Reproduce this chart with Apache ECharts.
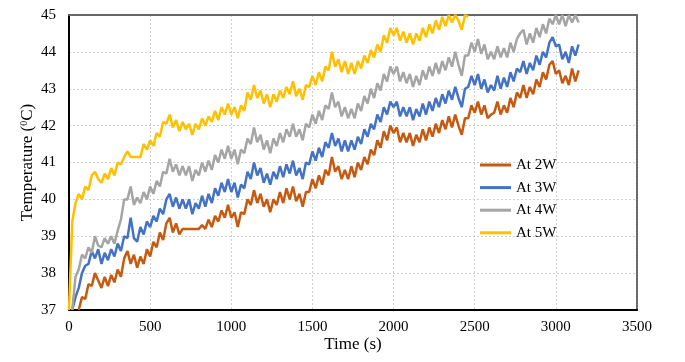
<!DOCTYPE html>
<html>
<head>
<meta charset="utf-8">
<script src="https://cdn.jsdelivr.net/npm/echarts@6/dist/echarts.min.js"></script>
<style>
html,body{margin:0;padding:0;background:#fff;}
#c{width:685px;height:362px;}
</style>
</head>
<body>
<div id="c"></div>
<script>
// Sampling interval of the recorded series (seconds)
const TIME_STEP = 20;
const seriesNames = ['At 2W', 'At 3W', 'At 4W', 'At 5W'];
const xTicks = [0, 500, 1000, 1500, 2000, 2500, 3000, 3500];
const yTicks = [37, 38, 39, 40, 41, 42, 43, 44, 45];

const temp2W = [
  null,null,null,37.0,37.35,37.3,37.7,37.65,38.0,37.8,
  37.6,37.9,37.65,37.95,37.75,38.1,37.9,38.4,38.6,38.25,
  38.5,38.15,38.45,38.25,38.65,38.45,38.85,38.7,39.1,38.9,
  39.35,39.5,39.1,39.35,39.05,39.2,39.2,39.2,39.2,39.2,
  39.2,39.3,39.2,39.45,39.25,39.55,39.4,39.7,39.5,39.85,
  39.5,39.65,39.25,39.65,39.6,40.0,39.85,40.25,39.9,40.15,
  39.8,40.0,39.65,40.0,39.85,40.2,39.9,40.3,40.0,40.35,
  39.95,40.15,39.8,40.2,40.2,40.55,40.3,40.65,40.4,40.8,
  40.65,41.15,40.75,40.9,40.55,40.8,40.55,40.9,40.6,41.0,
  40.8,41.15,40.95,41.35,41.2,41.6,41.4,41.85,41.6,42.0,
  41.8,41.95,41.55,41.8,41.55,41.8,41.45,41.75,41.55,41.9,
  41.6,41.95,41.7,42.05,41.8,42.15,41.9,42.25,41.95,42.3,
  42.0,41.75,42.2,42.2,42.55,42.35,42.65,42.3,42.55,42.2,
  42.3,42.35,42.65,42.3,42.55,42.35,42.75,42.5,42.9,42.75,
  43.1,42.75,43.05,42.85,43.25,43.05,43.45,43.25,43.65,43.75,
  43.4,43.5,43.15,43.35,43.1,43.55,43.2,43.5
];
const temp3W = [
  null,37.0,37.35,37.6,38.0,38.2,38.25,38.6,38.4,38.65,
  38.25,38.55,38.35,38.65,38.45,38.8,38.6,39.0,38.95,39.5,
  38.95,38.85,39.25,39.05,39.4,39.25,39.55,39.4,39.75,39.6,
  40.0,40.15,39.8,40.05,39.75,40.0,39.75,40.0,39.6,39.9,
  39.75,40.1,39.8,40.15,39.9,40.3,40.1,40.45,40.2,40.55,
  40.2,40.45,40.05,40.4,40.3,40.75,40.55,41.0,40.65,40.85,
  40.45,40.7,40.4,40.75,40.55,40.9,40.6,40.95,40.7,41.05,
  40.65,40.85,40.55,41.0,40.95,41.3,41.05,41.4,41.15,41.55,
  41.4,41.8,41.45,41.65,41.3,41.6,41.3,41.6,41.35,41.7,
  41.5,41.9,41.7,42.05,41.9,42.3,42.1,42.5,42.3,42.65,
  42.5,42.65,42.25,42.5,42.25,42.5,42.15,42.45,42.25,42.6,
  42.3,42.65,42.4,42.75,42.5,42.85,42.6,42.95,42.7,43.05,
  42.75,42.5,43.0,43.05,43.35,43.1,43.4,43.0,43.25,42.9,
  43.1,42.95,43.35,43.0,43.3,43.05,43.45,43.2,43.55,43.45,
  43.75,43.4,43.7,43.5,43.9,43.65,44.0,43.85,44.25,44.4,
  44.15,44.2,43.8,44.0,43.7,44.15,43.9,44.2
];
const temp4W = [
  null,37.0,37.9,38.1,38.5,38.4,38.7,38.55,39.0,38.75,
  38.7,38.95,38.8,39.0,38.8,39.15,39.45,40.0,40.0,40.35,
  39.85,40.05,39.9,40.2,40.0,40.35,40.15,40.5,40.35,40.75,
  40.7,41.1,40.75,40.95,40.65,40.9,40.65,40.9,40.5,40.8,
  40.65,41.0,40.75,41.05,40.8,41.2,41.0,41.35,41.1,41.45,
  41.1,41.35,40.95,41.35,41.25,41.65,41.5,41.95,41.55,41.75,
  41.35,41.6,41.25,41.65,41.45,41.8,41.55,41.9,41.7,42.05,
  41.7,41.9,41.6,42.05,41.95,42.3,42.05,42.4,42.15,42.55,
  42.45,42.9,42.5,42.65,42.25,42.5,42.2,42.45,42.2,42.6,
  42.4,42.8,42.6,43.0,42.75,43.15,42.95,43.4,43.2,43.6,
  43.4,43.6,43.2,43.45,43.15,43.4,43.05,43.35,43.1,43.5,
  43.25,43.6,43.35,43.7,43.4,43.75,43.5,43.85,43.6,44.0,
  43.65,43.35,43.9,43.9,44.25,44.0,44.35,43.95,44.2,43.8,
  44.0,43.8,44.15,43.85,44.1,43.85,44.25,44.0,44.35,44.5,
  44.6,44.2,44.5,44.25,44.65,44.4,44.75,44.5,44.9,44.75,
  45.0,44.75,45.0,44.7,45.0,44.8,45.0,44.8
];
const temp5W = [
  37.0,39.4,39.9,40.15,40.0,40.35,40.25,40.65,40.75,40.55,
  40.45,40.7,40.55,40.85,40.65,41.0,40.95,41.15,41.3,41.15,
  41.15,41.15,41.15,41.5,41.35,41.6,41.45,41.8,41.7,42.1,
  42.05,42.3,41.95,42.15,41.85,42.1,41.9,42.05,41.75,42.05,
  41.9,42.2,42.0,42.25,42.1,42.4,42.15,42.5,42.3,42.6,
  42.3,42.5,42.2,42.55,42.4,42.9,42.7,43.1,42.75,42.95,
  42.6,42.85,42.5,42.85,42.65,42.95,42.75,43.05,42.85,43.2,
  42.8,43.0,42.7,43.1,43.05,43.35,43.1,43.45,43.2,43.6,
  43.5,44.0,43.6,43.8,43.45,43.75,43.4,43.7,43.4,43.75,
  43.55,43.9,43.7,44.05,43.85,44.2,44.0,44.45,44.25,44.65,
  44.45,44.65,44.3,44.55,44.25,44.5,44.2,44.5,44.3,44.65,
  44.4,44.75,44.5,44.85,44.6,44.95,44.7,45.0,44.8,45.0,
  44.85,44.6,45.0,44.95
];
const colors = ['#C55A11', '#4472C4', '#A5A5A5', '#FFC000'];

const allValues = [temp2W, temp3W, temp4W, temp5W];
function toPairs(vals) {
  return vals.map((v, i) => [i * TIME_STEP, v]);
}

const FONT = 'Liberation Serif';
const chart = echarts.init(document.getElementById('c'), null, {renderer: 'canvas'});
chart.setOption({
  animation: false,
  backgroundColor: '#fff',
  grid: {left: 69, right: 48, top: 15, bottom: 52, containLabel: false},
  legend: {
    orient: 'vertical',
    left: 475,
    top: 152,
    icon: 'rect',
    itemWidth: 31,
    itemHeight: 3,
    itemGap: 6.6,
    textStyle: {fontFamily: FONT, fontSize: 15, color: '#000', lineHeight: 16},
    data: seriesNames
  },
  xAxis: [{
    type: 'value',
    min: xTicks[0], max: xTicks[xTicks.length - 1], interval: 500,
    name: 'Time (s)', nameLocation: 'middle', nameGap: 26, nameMoveOverlap: false,
    nameTextStyle: {fontFamily: FONT, fontSize: 17, color: '#000'},
    axisLine: {show: true, onZero: false, lineStyle: {color: '#000', width: 2}},
    axisTick: {show: false},
    axisLabel: {fontFamily: FONT, fontSize: 15, color: '#000', margin: 10,
      formatter: v => String(v)},
    splitLine: {show: true, lineStyle: {color: '#cfcfcf', type: [2, 2], width: 1}}
  }, {
    type: 'value', position: 'top',
    min: xTicks[0], max: xTicks[xTicks.length - 1],
    axisLine: {show: true, onZero: false, lineStyle: {color: '#666', width: 2, type: [2, 1]}},
    axisTick: {show: false}, axisLabel: {show: false}, splitLine: {show: false}
  }],
  yAxis: [{
    type: 'value',
    min: yTicks[0], max: yTicks[yTicks.length - 1], interval: 1,
    name: 'Temperature ({sup|0}C)', nameLocation: 'middle', nameGap: 32, nameRotate: 90,
    nameMoveOverlap: false,
    nameTextStyle: {fontFamily: FONT, fontSize: 17, color: '#000',
      rich: {sup: {fontFamily: FONT, fontSize: 10, color: '#000', verticalAlign: 'top', padding: [0, 0, 8, 0]}}},
    axisLine: {show: true, onZero: false, lineStyle: {color: '#000', width: 2}},
    axisTick: {show: false},
    axisLabel: {fontFamily: FONT, fontSize: 15, color: '#000', margin: 13},
    splitLine: {show: true, lineStyle: {color: '#cfcfcf', type: [2, 2], width: 1}}
  }, {
    type: 'value', position: 'right',
    min: yTicks[0], max: yTicks[yTicks.length - 1],
    axisLine: {show: true, onZero: false, lineStyle: {color: '#666', width: 2, type: [2, 1]}},
    axisTick: {show: false}, axisLabel: {show: false}, splitLine: {show: false}
  }],
  series: allValues.map((vals, i) => ({
    name: seriesNames[i],
    type: 'line',
    data: toPairs(vals),
    showSymbol: false,
    symbol: 'none',
    clip: true,
    connectNulls: false,
    lineStyle: {color: colors[i], width: 2.5},
    itemStyle: {color: colors[i]}
  }))
});
</script>
</body>
</html>
